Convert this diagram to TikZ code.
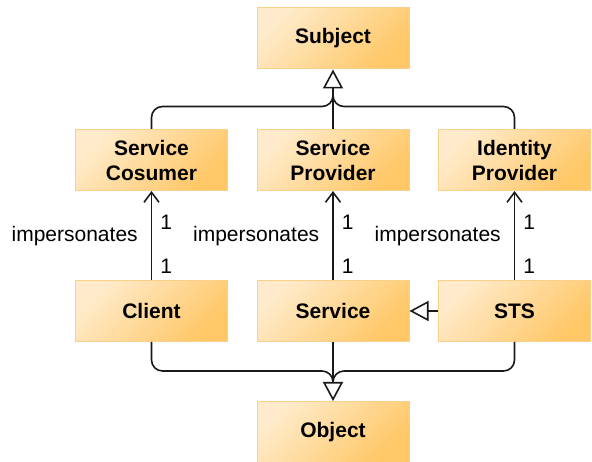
\documentclass[tikz,border=0pt]{standalone}
\usepackage{fontspec}
\setmainfont{Liberation Sans}
\usetikzlibrary{arrows.meta}
\definecolor{boxlight}{HTML}{FFEBCB}
\definecolor{boxdark}{HTML}{FFC766}
\definecolor{boxline}{HTML}{F9D08A}
\definecolor{wire}{HTML}{1A1A1A}
\begin{document}
\begin{tikzpicture}[x=1pt,y=-1pt,
  cls/.style={rectangle, draw=boxline, line width=1pt,
    top color=boxlight, bottom color=boxdark, shading angle=45,
    minimum width=152pt, minimum height=61pt, inner sep=0pt,
    align=center, font=\fontsize{21}{25}\selectfont\bfseries},
  link/.style={draw=wire, line width=1.6pt},
  inh/.style={link, -{Triangle[open, length=19pt, width=20pt]}},
  imp/.style={link, -{Straight Barb[length=10pt, width=15pt]}},
  lbl/.style={inner sep=0pt, font=\fontsize{21}{25}\selectfont},
]
\useasboundingbox (0,0) rectangle (592,462);

% classes
\node[cls] (subject) at (333,38.5) {Subject};
\node[cls] (sc) at (151.5,160) {Service\\Cosumer};
\node[cls] (sp) at (333,160) {Service\\Provider};
\node[cls] (ip) at (514.5,160) {Identity\\Provider};
\node[cls] (client) at (151.5,311) {Client};
\node[cls] (service) at (333,311) {Service};
\node[cls] (sts) at (514.5,311) {STS};
\node[cls] (object) at (333,432) {Object};

% generalisation towards Subject
\coordinate (topbus) at ([yshift=-37pt]subject.south);
\coordinate (topjoin) at ([yshift=-19pt]subject.south);
\draw[inh] (sp.north) -- (subject.south);
\draw[link, rounded corners=11pt] (sc.north) |- (topbus) -- (topjoin);
\draw[link, rounded corners=11pt] (ip.north) |- (topbus) -- (topjoin);

% generalisation towards Object
\coordinate (botbus) at ([yshift=30pt]object.north);
\coordinate (botjoin) at ([yshift=19pt]object.north);
\draw[inh] (service.south) -- (object.north);
\draw[link, rounded corners=11pt] (client.south) |- (botbus) -- (botjoin);
\draw[link, rounded corners=11pt] (sts.south) |- (botbus) -- (botjoin);

% STS specialises Service
\draw[inh] (sts.west) -- (service.east);

% impersonation associations
\draw[imp] (client.north) --
  node[lbl, pos=0.155, anchor=west, xshift=8pt] {1}
  node[lbl, pos=0.644, anchor=west, xshift=8pt] {1}
  node[lbl, pos=0.49, anchor=east, xshift=-13pt] {impersonates}
  (sc.south);
\draw[imp] (service.north) --
  node[lbl, pos=0.155, anchor=west, xshift=8pt] {1}
  node[lbl, pos=0.644, anchor=west, xshift=8pt] {1}
  node[lbl, pos=0.49, anchor=east, xshift=-13pt] {impersonates}
  (sp.south);
\draw[imp] (sts.north) --
  node[lbl, pos=0.155, anchor=west, xshift=8pt] {1}
  node[lbl, pos=0.644, anchor=west, xshift=8pt] {1}
  node[lbl, pos=0.49, anchor=east, xshift=-13pt] {impersonates}
  (ip.south);
\end{tikzpicture}
\end{document}
